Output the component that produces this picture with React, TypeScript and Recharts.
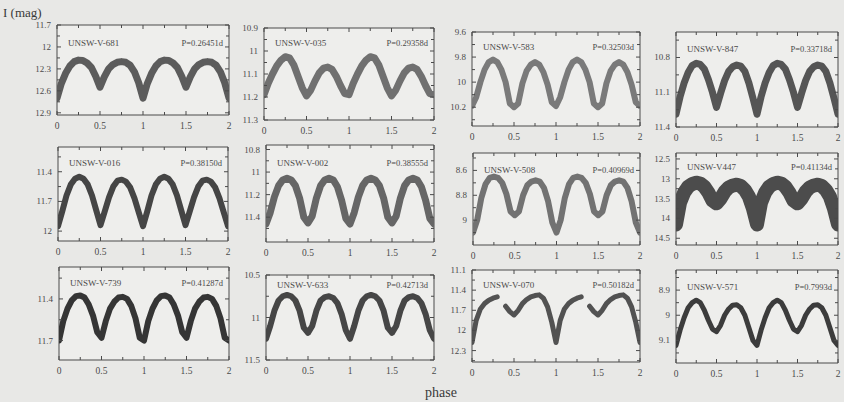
import React from 'react';
import { LineChart, Line, XAxis, YAxis, ReferenceArea } from 'recharts';

// ---------- data ----------
const PHASE = [
  0, 0.05, 0.1, 0.15, 0.2, 0.25, 0.3, 0.35, 0.4, 0.45,
  0.5, 0.55, 0.6, 0.65, 0.7, 0.75, 0.8, 0.85, 0.9, 0.95,
  1, 1.05, 1.1, 1.15, 1.2, 1.25, 1.3, 1.35, 1.4, 1.45,
  1.5, 1.55, 1.6, 1.65, 1.7, 1.75, 1.8, 1.85, 1.9, 1.95, 2,
];

const STAR_NAMES = [
  'UNSW-V-681', 'UNSW-V-035', 'UNSW-V-583', 'UNSW-V-847',
  'UNSW-V-016', 'UNSW-V-002', 'UNSW-V-508', 'UNSW-V447',
  'UNSW-V-739', 'UNSW-V-633', 'UNSW-V-070', 'UNSW-V-571',
];
const PERIODS = [
  'P=0.26451d', 'P=0.29358d', 'P=0.32503d', 'P=0.33718d',
  'P=0.38150d', 'P=0.38555d', 'P=0.40969d', 'P=0.41134d',
  'P=0.41287d', 'P=0.42713d', 'P=0.50182d', 'P=0.7993d',
];

// one folded cycle (phase 0 .. 0.95), plotted twice
const MAG_681 = [12.70, 12.50, 12.36, 12.26, 12.20, 12.18, 12.185, 12.22, 12.28, 12.40, 12.55, 12.41, 12.30, 12.24, 12.21, 12.20, 12.21, 12.25, 12.34, 12.49];
const MAG_035 = [11.19, 11.14, 11.10, 11.065, 11.04, 11.025, 11.03, 11.06, 11.11, 11.16, 11.195, 11.17, 11.13, 11.095, 11.075, 11.07, 11.08, 11.11, 11.15, 11.185];
const MAG_583 = [10.19, 10.12, 10.0, 9.9, 9.84, 9.82, 9.84, 9.9, 10.0, 10.17, 10.2, 10.17, 10.01, 9.91, 9.86, 9.84, 9.86, 9.92, 10.02, 10.16];
const MAG_847 = [11.29, 11.14, 11.02, 10.93, 10.87, 10.85, 10.86, 10.9, 10.99, 11.1, 11.23, 11.11, 11.0, 10.92, 10.88, 10.865, 10.875, 10.92, 11.02, 11.15];
const MAG_016 = [11.95, 11.80, 11.64, 11.53, 11.47, 11.45, 11.47, 11.53, 11.64, 11.79, 11.94, 11.80, 11.66, 11.55, 11.49, 11.48, 11.50, 11.56, 11.67, 11.81];
const MAG_002 = [11.46, 11.36, 11.22, 11.12, 11.07, 11.055, 11.07, 11.12, 11.23, 11.40, 11.45, 11.39, 11.23, 11.12, 11.07, 11.055, 11.07, 11.13, 11.25, 11.41];
const MAG_508 = [9.10, 9.0, 8.82, 8.71, 8.66, 8.65, 8.66, 8.70, 8.79, 8.93, 8.96, 8.93, 8.80, 8.72, 8.69, 8.68, 8.69, 8.74, 8.85, 9.02];
const MAG_447 = [14.15, 13.6, 13.35, 13.2, 13.13, 13.1, 13.12, 13.2, 13.35, 13.55, 13.62, 13.5, 13.33, 13.22, 13.17, 13.15, 13.18, 13.28, 13.45, 13.75];
const MAG_739 = [11.70, 11.56, 11.47, 11.41, 11.38, 11.375, 11.39, 11.44, 11.52, 11.64, 11.68, 11.56, 11.47, 11.42, 11.39, 11.385, 11.40, 11.45, 11.54, 11.68];
const MAG_633 = [11.25, 11.10, 10.92, 10.80, 10.75, 10.735, 10.75, 10.80, 10.92, 11.12, 11.18, 11.10, 10.92, 10.80, 10.76, 10.75, 10.77, 10.83, 10.96, 11.15];
const MAG_070 = [12.18, 11.85, 11.68, 11.60, 11.55, 11.52, 11.50, null, 11.64, 11.72, 11.77, 11.70, 11.60, 11.54, 11.50, 11.48, 11.47, 11.52, 11.65, 11.88];
const MAG_571 = [9.12, 9.06, 9.01, 8.97, 8.95, 8.94, 8.95, 8.98, 9.02, 9.055, 9.065, 9.04, 9.0, 8.975, 8.96, 8.958, 8.97, 9.0, 9.05, 9.1];

const MAGS = [MAG_681, MAG_035, MAG_583, MAG_847, MAG_016, MAG_002, MAG_508, MAG_447, MAG_739, MAG_633, MAG_070, MAG_571];

const Y_DOMAINS = [
  [11.7, 12.93], [10.9, 11.3], [9.6, 10.35], [10.58, 11.4],
  [11.15, 12.1], [10.76, 11.62], [8.46, 9.2], [12.35, 14.67],
  [11.17, 11.84], [10.5, 11.5], [11.1, 12.47], [8.82, 9.19],
];
const Y_MAJOR = [
  [11.7, 12, 12.3, 12.6, 12.9], [10.9, 11, 11.1, 11.2, 11.3], [9.6, 9.8, 10, 10.2], [10.8, 11.1, 11.4],
  [11.4, 11.7, 12], [10.8, 11, 11.2, 11.4], [8.6, 8.8, 9], [12.5, 13, 13.5, 14, 14.5],
  [11.4, 11.7], [10.5, 11, 11.5], [11.1, 11.4, 11.7, 12, 12.3], [8.9, 9, 9.1],
];
const Y_MINOR = [
  [11.85, 12.15, 12.45, 12.75], [10.95, 11.05, 11.15, 11.25], [9.7, 9.9, 10.1, 10.3], [10.65, 10.95, 11.25],
  [11.25, 11.55, 11.85], [10.9, 11.1, 11.3, 11.5], [8.5, 8.7, 8.9, 9.1], [12.75, 13.25, 13.75, 14.25],
  [11.25, 11.55], [10.75, 11.25], [11.25, 11.55, 11.85, 12.15, 12.45], [8.85, 8.95, 9.05, 9.15],
];
const X_TICKS = [0, 0.25, 0.5, 0.75, 1, 1.25, 1.5, 1.75, 2];
const X_LABELED = [0, 0.5, 1, 1.5, 2];

// ---------- layout & style ----------
const LAYOUT = [
  { x0: 57, x1: 229, y0: 25, y1: 115 },
  { x0: 264, x1: 434, y0: 28, y1: 120 },
  { x0: 472, x1: 640, y0: 32, y1: 126 },
  { x0: 676, x1: 838, y0: 32, y1: 127 },
  { x0: 58, x1: 228, y0: 147, y1: 241 },
  { x0: 266, x1: 434, y0: 145, y1: 242 },
  { x0: 473, x1: 640, y0: 153, y1: 245 },
  { x0: 676, x1: 838, y0: 153, y1: 245 },
  { x0: 59, x1: 229, y0: 267, y1: 360 },
  { x0: 266, x1: 434, y0: 275, y1: 360 },
  { x0: 472, x1: 640, y0: 270, y1: 362 },
  { x0: 676, x1: 838, y0: 270, y1: 363 },
];
// vertical centre of the in-panel labels, measured from the panel's top edge
const LABEL_OFFSET = [18, 15, 15, 17, 16, 18, 17, 14, 16, 10, 15, 17];
const COLORS = ['#5c5c5c', '#707070', '#7a7a7a', '#555555', '#454545', '#666666', '#727272', '#4c4c4c', '#353535', '#464646', '#525252', '#3c3c3c'];
const WIDTHS = [7, 7, 6, 7, 6, 7, 6, 14, 6, 6, 5, 5];

const FONT = '"Liberation Serif", "DejaVu Serif", serif';
const INK = '#4a4a4a';
const ML = 40;
const MB = 22;
const MT = 4;
const MR = 6;

function XTick(props: any) {
  const { x, y, payload, h } = props;
  const v = payload.value;
  const major = X_LABELED.includes(v);
  const len = major ? 4 : 3;
  return (
    <g>
      <line x1={x} x2={x} y1={y} y2={y - len} stroke={INK} strokeWidth={1} />
      <line x1={x} x2={x} y1={y - h} y2={y - h + len} stroke={INK} strokeWidth={1} />
      {major && (
        <text x={x} y={y + 14} textAnchor="middle" fontSize={9.5} fill={INK} stroke="none" fontFamily={FONT}>
          {String(v)}
        </text>
      )}
    </g>
  );
}

function YTick(props: any) {
  const { x, y, payload, w, majors } = props;
  const v = payload.value;
  const major = majors.includes(v);
  const len = major ? 4 : 3;
  return (
    <g>
      <line x1={x} x2={x + len} y1={y} y2={y} stroke={INK} strokeWidth={1} />
      <line x1={x + w} x2={x + w - len} y1={y} y2={y} stroke={INK} strokeWidth={1} />
      {major && (
        <text x={x - 6} y={y + 3} textAnchor="end" fontSize={9} fill={INK} stroke="none" fontFamily={FONT}>
          {String(v)}
        </text>
      )}
    </g>
  );
}

function Panel({ i }: { i: number }) {
  const L = LAYOUT[i];
  const w = L.x1 - L.x0;
  const h = L.y1 - L.y0;
  const mags = MAGS[i];
  const data = PHASE.map((p, k) => ({ phase: p, mag: mags[k % mags.length] }));
  const dom = Y_DOMAINS[i];
  const majors = Y_MAJOR[i];
  const ticks = [...Y_MAJOR[i], ...Y_MINOR[i]].sort((a, b) => a - b);
  const labelTop = MT + LABEL_OFFSET[i] - 6;
  return (
    <div style={{ position: 'absolute', left: L.x0 - ML, top: L.y0 - MT }}>
      <LineChart
        width={w + ML + MR}
        height={h + MT + MB}
        data={data}
        margin={{ top: MT, right: MR, bottom: 0, left: 0 }}
      >
        <XAxis
          dataKey="phase"
          type="number"
          domain={[0, 2]}
          ticks={X_TICKS}
          interval={0}
          height={MB}
          tickLine={false}
          axisLine={false}
          tickSize={0}
          tickMargin={0}
          allowDataOverflow
          tick={(p: any) => <XTick {...p} h={h} />}
        />
        <YAxis
          type="number"
          domain={dom}
          reversed
          ticks={ticks}
          interval={0}
          width={ML}
          tickLine={false}
          axisLine={false}
          tickSize={0}
          tickMargin={0}
          allowDataOverflow
          tick={(p: any) => <YTick {...p} w={w} majors={majors} />}
        />
        <ReferenceArea
          x1={0}
          x2={2}
          y1={dom[0]}
          y2={dom[1]}
          fill="#eeeeec"
          fillOpacity={1}
          stroke={INK}
          strokeWidth={1}
          ifOverflow="visible"
        />
        <Line
          dataKey="mag"
          type="linear"
          dot={false}
          stroke={COLORS[i]}
          strokeWidth={WIDTHS[i]}
          strokeLinejoin="round"
          strokeLinecap="round"
          isAnimationActive={false}
          connectNulls={false}
        />
      </LineChart>
      <div
        style={{
          position: 'absolute',
          left: ML + 11,
          top: labelTop,
          fontFamily: FONT,
          fontSize: 9,
          lineHeight: '12px',
          color: INK,
          whiteSpace: 'nowrap',
        }}
      >
        {STAR_NAMES[i]}
      </div>
      <div
        style={{
          position: 'absolute',
          left: ML + w - 80,
          width: 74,
          textAlign: 'right',
          top: labelTop,
          fontFamily: FONT,
          fontSize: 8.5,
          lineHeight: '12px',
          color: INK,
          whiteSpace: 'nowrap',
        }}
      >
        {PERIODS[i]}
      </div>
    </div>
  );
}

export default function App() {
  return (
    <div
      style={{
        position: 'absolute',
        left: 0,
        top: 0,
        width: 844,
        height: 402,
        background: '#e8e8e6',
        overflow: 'hidden',
        fontFamily: FONT,
      }}
    >
      <div style={{ position: 'absolute', left: 3, top: 5, fontSize: 13, color: '#3a3a3a', whiteSpace: 'nowrap' }}>
        I (mag)
      </div>
      {LAYOUT.map((_, i) => (
        <Panel key={i} i={i} />
      ))}
      <div style={{ position: 'absolute', left: 425, top: 385, fontSize: 14, color: '#3a3a3a' }}>phase</div>
    </div>
  );
}
